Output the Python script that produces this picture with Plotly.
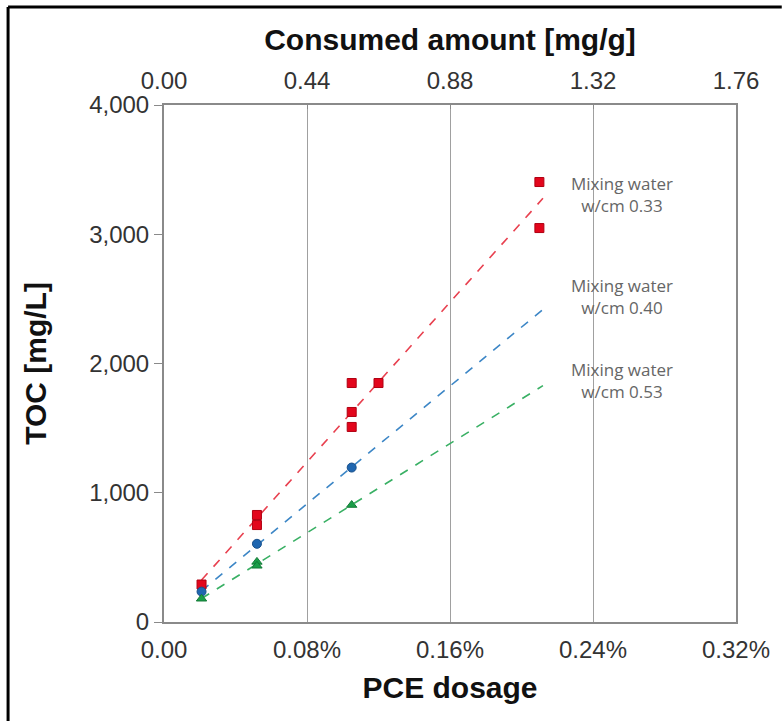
import numpy as np
import plotly.graph_objects as go

# PCE dosage [%] and TOC [mg/L]
x_033 = [0.021, 0.052, 0.052, 0.105, 0.105, 0.105, 0.120, 0.210, 0.210]
y_033 = [290, 828, 750, 1849, 1625, 1509, 1849, 3404, 3048]
x_040 = [0.021, 0.052, 0.105]
y_040 = [235, 605, 1195]
x_053 = [0.021, 0.052, 0.052, 0.105]
y_053 = [180, 465, 435, 905]

bottom_tickvals = [0.0, 0.08, 0.16, 0.24, 0.32]
bottom_ticktext = ["0.00", "0.08%", "0.16%", "0.24%", "0.32%"]
top_tickvals = [0.0, 0.44, 0.88, 1.32, 1.76]
top_ticktext = ["0.00", "0.44", "0.88", "1.32", "1.76"]
y_tickvals = [0, 1000, 2000, 3000, 4000]

labels = ["Mixing water<br>w/cm 0.33", "Mixing water<br>w/cm 0.40", "Mixing water<br>w/cm 0.53"]
label_y = [3304, 2522, 1872]

FIT_END = 0.212

series = [
    (x_033, y_033, "#e3061c", "#b00012", "square", "#e8404f"),
    (x_040, y_040, "#1f66b0", "#174f8a", "circle", "#3c86c6"),
    (x_053, y_053, "#1a9e48", "#137a37", "triangle-up", "#39b064"),
]

fig = go.Figure()
for xs, ys, col, lcol, sym, dcol in series:
    k, b = np.polyfit(xs, ys, 1)
    xl = np.array([min(xs), FIT_END])
    fig.add_trace(go.Scatter(x=xl, y=k * xl + b, mode="lines",
                             line=dict(color=dcol, width=1.6, dash="dash"),
                             showlegend=False, hoverinfo="skip"))
for xs, ys, col, lcol, sym, dcol in series:
    fig.add_trace(go.Scatter(x=xs, y=ys, mode="markers",
                             marker=dict(symbol=sym, size=9, color=col,
                                         line=dict(color=lcol, width=1)),
                             showlegend=False))

# invisible trace for top axis
fig.add_trace(go.Scatter(x=[0, 1.76], y=[0, 0], xaxis="x2", mode="markers",
                         marker=dict(opacity=0), showlegend=False, hoverinfo="skip"))

for txt, yy in zip(labels, label_y):
    fig.add_annotation(x=0.256, y=yy, text=txt, showarrow=False,
                       font=dict(family="Open Sans", size=17, color="#666666"),
                       xanchor="center", yanchor="middle", align="center")

axfont = dict(family="Liberation Sans, Arial", size=24, color="#333333")
titlefont = dict(family="Liberation Sans, Arial", size=30, color="#111111", weight="bold")

fig.update_layout(
    width=782, height=721,
    margin=dict(l=164, r=42, t=105, b=99),
    paper_bgcolor="white", plot_bgcolor="white",
    xaxis=dict(range=[0, 0.32], tickvals=bottom_tickvals, ticktext=bottom_ticktext,
               showgrid=True, gridcolor="#a0a0a0", gridwidth=1,
               showline=True, linecolor="#8a8a8a", linewidth=2, mirror=False,
               ticks="", tickfont=axfont, zeroline=False, ticklabelstandoff=5,
               title=dict(text="PCE dosage", font=titlefont, standoff=15)),
    xaxis2=dict(range=[0, 1.76], overlaying="x", side="top", tickvals=top_tickvals,
                ticktext=top_ticktext, showgrid=False, showline=True,
                linecolor="#8a8a8a", linewidth=2, ticks="inside", ticklen=4,
                tickcolor="#8a8a8a", tickfont=axfont, zeroline=False,
                ticklabelstandoff=4,
                title=dict(text="Consumed amount [mg/g]", font=titlefont, standoff=8)),
    yaxis=dict(range=[0, 4000], tickvals=y_tickvals, tickformat=",d",
               showgrid=False, showline=True, linecolor="#8a8a8a", linewidth=2,
               mirror=True, ticks="outside", ticklen=8, tickcolor="#8a8a8a",
               tickfont=axfont, zeroline=False,
               title=dict(text="TOC [mg/L]", font=titlefont, standoff=34)),
    separators=".,",
)

# image border (top and left)
fig.add_shape(type="line", xref="paper", yref="paper", x0=-0.2726, x1=1.08,
              y0=1.1896, y1=1.1896, line=dict(color="black", width=3))
fig.add_shape(type="line", xref="paper", yref="paper", x0=-0.2726, x1=-0.2726,
              y0=1.1896, y1=-0.2, line=dict(color="black", width=3))

fig.write_html("out.html", config={"displayModeBar": False},
               post_script="document.body.style.margin='0';")
